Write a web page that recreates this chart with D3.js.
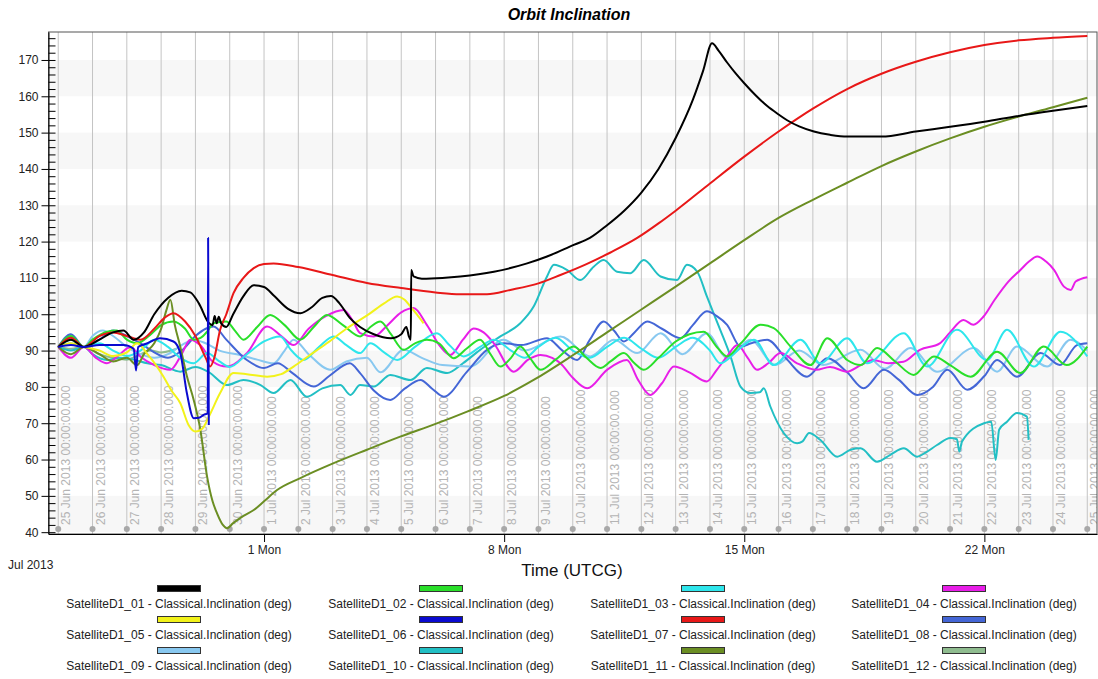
<!DOCTYPE html>
<html>
<head>
<meta charset="utf-8">
<script src="https://cdn.jsdelivr.net/npm/d3@7"></script>
<style>
  body { margin: 0; background: #fff; }
  svg { font-family: "Liberation Sans", Arial, sans-serif; }
  .tick text { font-size: 12px; fill: #222; }
</style>
</head>
<body>
<div class="chart"></div>
<script>
// Orbit Inclination - satellite inclination vs time

// time is in days after 25 Jun 2013 00:00 UTCG, value in deg
let s01 = [[0,91],[0.37,93],[0.75,91],[1.2,93],[1.6,95],[1.9,95.5],[2.2,93],[2.5,95],[2.8,100],[3.2,104.5],[3.6,106.5],[3.85,106],[4.1,103],[4.4,97.5],[4.5,97],[4.56,99.5],[4.62,97.5],[4.68,99.3],[4.75,97.5],[4.9,96.5],[5.1,100],[5.4,105],[5.7,108],[6.0,107.5],[6.3,105],[6.7,101.5],[7.06,100.3],[7.4,102],[7.7,104.5],[7.95,105],[8.2,103],[8.5,99],[8.8,96.5],[9.2,94.5],[9.7,93.4],[10.0,94.5],[10.15,96.5],[10.22,94],[10.28,93],[10.29,112.2],[10.36,110.4],[10.6,109.8],[11.2,110],[11.72,110.4],[12.7,111.7],[13.67,114],[14.25,115.9],[15.03,119.1],[15.5,121],[16.0,124.5],[16.5,128.5],[17.0,133.5],[17.5,140],[18.0,148.5],[18.5,159],[18.8,167],[19.06,174.6],[19.25,172.6],[19.5,169.3],[19.75,166.3],[20.0,163.6],[20.33,160.3],[20.67,157.3],[21.0,155],[21.25,153.4],[21.6,151.7],[22.03,150.3],[22.5,149.4],[23,148.9],[24,148.9],[25,150.3],[26,151.6],[27,153],[28,154.6],[29,156],[30,157.3]];
let s02 = [[0,91],[0.37,94],[0.75,91],[1.0,93],[1.42,95.2],[1.7,95.5],[2.0,93],[2.3,92],[2.68,94.3],[3.0,97],[3.36,98],[3.7,96],[3.95,93],[4.15,93.5],[4.34,95.2],[4.53,97.5],[4.9,98],[5.15,95.5],[5.4,93],[5.8,96.5],[6.18,99.8],[6.6,97],[7.06,93],[7.45,96.5],[7.83,99.8],[8.3,97],[8.8,93.9],[9.1,96.5],[9.39,98],[9.7,94.5],[10.07,90.2],[10.4,92],[10.75,93],[11.1,92],[11.53,87.9],[11.9,90.5],[12.3,93],[12.6,89],[12.89,85.6],[13.2,88],[13.47,91.1],[13.75,88],[14.06,84.7],[14.5,87.5],[15.03,91.1],[15.4,88],[15.81,85.2],[16.1,87],[16.49,89.3],[16.8,86.5],[17.07,84.7],[17.5,88],[18.0,92.5],[18.4,94.5],[18.82,95.2],[19.2,91],[19.5,88.4],[19.9,92],[20.47,97.1],[20.86,96.2],[21.35,91.1],[21.93,86],[22.42,93.4],[23,87.4],[23.4,86],[23.87,90.7],[24.4,87],[24.94,83.3],[25.53,88.4],[26.0,86],[26.6,82.8],[27.37,89.7],[28.05,83.8],[28.73,91.1],[29.4,86],[30,91.1]];
let s03 = [[0,91],[0.37,93],[0.75,91],[1.2,92],[1.6,90],[2.0,88.5],[2.4,90],[2.8,93],[3.2,91],[3.56,88],[3.95,86.5],[4.34,89.3],[4.7,87],[5.0,85.5],[5.5,89],[6.0,92.5],[6.47,93.9],[6.8,90],[7.15,87.4],[7.6,91],[8.03,93.9],[8.4,91.5],[8.8,89.3],[9.1,92],[9.5,89.5],[9.88,87.4],[10.4,91],[11.04,94.8],[11.4,91.5],[11.82,88.4],[12.3,91],[12.7,93],[13.2,90],[13.6,88],[14.0,91],[14.5,93.5],[15.0,90],[15.5,88],[16.0,91],[16.5,93.5],[17.0,90.5],[17.5,88],[18.0,91],[18.5,93.5],[19.0,90],[19.3,86.5],[19.8,90],[20.28,93],[20.86,86],[21.64,93],[22.22,86.5],[23,93.4],[23.58,86.5],[24.65,94.8],[25.33,85.6],[26.2,95.7],[27.08,87.4],[27.66,95.7],[28.44,85.6],[29.22,95.2],[30,88.4]];
let s04 = [[0,91],[0.37,88],[0.75,91],[1.1,88],[1.42,86.5],[1.8,89],[2.1,91],[2.4,88.3],[2.8,86],[3.27,84.7],[3.6,89],[3.85,93],[4.14,91.5],[4.5,87],[4.92,85.6],[5.5,89.3],[6.09,96.6],[6.5,94],[6.86,91.5],[7.3,96],[7.8,99.5],[8.32,101.2],[8.6,98],[8.8,94.8],[9.2,93.9],[9.6,97],[10.0,100.5],[10.36,101.7],[10.75,97],[11.14,91.1],[11.43,88.8],[11.8,93],[12.11,96.1],[12.4,95],[12.7,92],[13.28,84.2],[13.7,87.5],[14.06,88.8],[14.4,88],[14.64,86.5],[15.0,82.5],[15.42,79.6],[16.0,84.7],[16.58,87.4],[16.9,82],[17.26,77.8],[17.6,81],[17.95,85.6],[18.4,84],[18.91,81.5],[19.2,84.7],[19.5,88.4],[19.8,91.5],[20.1,88],[20.37,84.7],[20.7,86.5],[21.06,89.3],[21.54,86.5],[22.1,84.7],[22.5,85.5],[22.99,84.2],[23.4,86],[23.76,87.4],[24.2,86.5],[24.64,86.9],[25.12,90.2],[25.7,92],[26.0,95],[26.39,98.4],[26.68,97.1],[26.97,99.3],[27.3,104],[27.7,109],[28.05,112.2],[28.3,114.5],[28.54,115.9],[28.8,114.5],[29.03,112.2],[29.32,107.6],[29.52,106.7],[29.66,109],[30,110.2]];
let s05 = [[0,91],[0.37,92],[0.75,91],[1.2,90],[1.6,88.5],[2.0,89.5],[2.3,92],[2.6,89],[2.85,86],[3.07,82.8],[3.3,79],[3.56,75.5],[3.8,69.5],[4.0,67.7],[4.2,68.5],[4.4,72],[4.72,78.3],[5.11,83.8],[5.5,83.5],[6.09,82.8],[6.5,83.5],[6.86,85.6],[7.3,88.5],[7.83,92],[8.4,96],[9.1,100.3],[9.5,103],[9.88,104.9],[10.1,104],[10.27,102.1],[10.45,100],[10.65,97.5]];
let s06 = [[0,91],[0.37,91.5],[0.75,91],[1.2,91.5],[1.6,91.5],[1.9,91.5],[2.2,90.5],[2.27,84.5],[2.33,91],[2.6,92],[2.97,93.4],[3.36,92.5],[3.56,89.3],[3.75,78.3],[3.95,71.4],[4.1,71.5],[4.24,72.3],[4.36,72.7],[4.37,121],[4.39,69.5]];
let s07 = [[0,91],[0.37,93.5],[0.75,91],[1.2,94],[1.6,95],[2.0,94],[2.4,93],[2.8,96],[3.1,99],[3.36,100.3],[3.7,98],[4.0,94],[4.3,88],[4.43,85.6],[4.55,88],[4.72,95.7],[4.9,100],[5.11,105.8],[5.4,110],[5.7,112.7],[6.0,113.8],[6.28,114],[7,113],[8,110.8],[9,108.6],[10,107.2],[11,106],[11.72,105.5],[12.5,105.5],[13.18,106.7],[14,108.5],[14.64,110.8],[15.4,113.8],[16.1,117],[16.88,121],[17.5,125],[18,128.5],[19,136],[20,143.4],[21,150.3],[22,156.6],[23,162],[24,166.2],[25,169.5],[26,172.1],[27,174.1],[28,175.4],[29,176.1],[30,176.6]];
let s08 = [[0,91],[0.37,94.5],[0.75,91],[1.2,93],[1.6,95.5],[2.0,94],[2.4,92],[2.8,89.5],[3.2,88],[3.6,90],[4.0,94],[4.3,96],[4.53,96.6],[4.9,93],[5.5,87.4],[6.0,85.2],[6.4,86.5],[6.8,84],[7.45,80.1],[7.9,83],[8.5,86.5],[8.8,83.8],[9.2,79],[9.68,76.4],[10.1,79.5],[10.56,81.9],[10.9,79.5],[11.24,77.3],[11.9,84],[12.5,90.2],[13.0,92],[13.5,91.5],[14.25,93.4],[14.7,90],[15.13,87.4],[15.5,93],[15.9,98],[16.2,95.5],[16.49,92.5],[16.8,95],[17.17,98],[17.6,96],[18.14,93.4],[18.5,97],[18.91,100.8],[19.2,99.5],[19.5,97.1],[19.89,91.1],[20.2,92],[20.67,93],[21.2,88],[21.83,82.8],[22.42,87.9],[23.0,84],[23.48,79.6],[24.07,84.7],[24.5,82],[25.04,77.8],[25.5,80],[25.92,84.7],[26.5,79.2],[27.0,83],[27.37,87.4],[27.95,82.8],[28.64,89.3],[29.2,86],[29.7,91.5],[30,92]];
let s09 = [[0,91],[0.37,92],[0.75,91],[1.0,94],[1.3,95.5],[1.6,94],[2.0,91],[2.4,89],[2.8,88],[3.2,89],[3.6,91.5],[3.95,93],[4.3,92],[4.7,90],[5.3,88.8],[5.8,87.5],[6.28,86.5],[6.6,90],[6.86,93],[7.3,89],[7.93,84.7],[8.4,87],[9.0,88],[9.39,84],[10.07,90.2],[10.6,88],[11.2,86],[12.01,85.6],[12.98,93],[13.6,90],[14.64,93.9],[15.51,88.4],[16.2,93],[16.88,89.3],[17.56,94.8],[18.2,89],[18.91,94.8],[19.5,88],[20.18,93],[20.9,86],[21.6,90],[22.3,86],[23.39,90.2],[24.1,85],[24.85,90.7],[25.62,84.2],[26.69,90.7],[27.37,84.2],[27.95,91.1],[28.83,85.6],[29.51,93],[30,90]];
let s10 = [[0,91],[0.37,90],[0.75,91],[1.0,89],[1.42,87.4],[1.8,88],[2.2,87.5],[2.6,86.5],[3.0,86],[3.56,84.2],[4.0,85.5],[4.4,84],[4.92,80.5],[5.4,81.9],[5.9,80.5],[6.28,78.3],[6.77,81.9],[7.25,77.3],[7.7,79.6],[8.22,80.5],[8.52,77.8],[8.8,80.5],[9.2,80.1],[9.68,83.3],[10.27,81.9],[10.75,85.2],[11.34,83.8],[11.8,86.5],[12.3,90.2],[12.89,93.9],[13.47,97.5],[13.86,102.1],[14.25,110.4],[14.45,113.6],[14.83,112.2],[15.22,109.4],[15.61,113.1],[15.9,114.9],[16.29,111.7],[16.68,111.3],[17.07,114.9],[17.56,110.4],[18.04,109.4],[18.33,113.6],[18.63,111.7],[18.91,104.9],[19.3,95.7],[19.6,88.4],[19.89,80.1],[20.18,78.3],[20.45,78.5],[20.57,79.6],[20.76,74.6],[21.15,67.3],[21.54,64.5],[21.7,65],[21.89,67.3],[22.22,65.4],[22.71,60.8],[23.1,62.7],[23.39,63.1],[23.87,59.4],[24.26,61.3],[24.65,63.1],[25.04,60.8],[25.3,62],[25.62,64],[26.01,65.9],[26.2,65.6],[26.27,62.2],[26.35,65],[26.99,70],[27.2,70.4],[27.33,59.9],[27.43,68.2],[27.66,70.4],[27.95,72.8],[28.24,71.8],[28.29,65.4]];
let s11 = [[0,91],[0.37,89],[0.75,91],[1.2,89],[1.6,87],[2.0,88],[2.3,86],[2.5,89],[2.8,92],[3.0,96],[3.15,101],[3.27,104],[3.4,97],[3.56,91],[3.75,83],[3.95,76.4],[4.14,68.4],[4.34,55.3],[4.5,48.5],[4.63,45.2],[4.8,42],[4.92,41.1],[5.1,42.5],[5.4,44.5],[5.7,46.1],[6.0,48.5],[6.38,51.6],[7.06,54.9],[8.03,59],[9,62.7],[9.97,66.3],[11,69.8],[11.92,73.2],[13,77.5],[13.86,81.9],[15,88.7],[16,95],[17,101.3],[18,107.6],[19,114],[20,120.4],[21,126.5],[22,131.5],[23,136.2],[24,140.8],[25,144.8],[26,148.4],[27,151.6],[28,154.4],[29,157],[30,159.6]];
let s12 = [[0,91],[0.37,90.5],[0.75,91],[1.2,89],[1.6,88],[2.0,87.5],[2.3,88.5],[2.7,90],[3.0,89.5],[3.3,90],[3.45,90.5]];

let seriesNames = ["SatelliteD1_01","SatelliteD1_02","SatelliteD1_03","SatelliteD1_04","SatelliteD1_05","SatelliteD1_06",
                   "SatelliteD1_07","SatelliteD1_08","SatelliteD1_09","SatelliteD1_10","SatelliteD1_11","SatelliteD1_12"];
let seriesColors = ["#000000","#2adf2a","#2ee6ec","#e81ee8","#f2f21a","#0a0ad0",
                    "#e81818","#4466d6","#88c8f0","#22bfc4","#6b8e23","#8fbc8f"];
let seriesValues = [s01,s02,s03,s04,s05,s06,s07,s08,s09,s10,s11,s12];

let yMajorTicks = [40,50,60,70,80,90,100,110,120,130,140,150,160,170];
let yBands = [[40,50],[60,70],[80,90],[100,110],[120,130],[140,150],[160,170]];

let svgWidth = 1098;
let svgHeight = 679;
let plot = { left: 48.5, top: 32, right: 1097, bottom: 534 };

let t0 = Date.UTC(2013, 5, 25);
let toDate = d => new Date(t0 + d * 864e5);

let svg = d3.select(".chart").append("svg")
  .attr("width", svgWidth)
  .attr("height", svgHeight);

svg.append("clipPath").attr("id", "plotclip").append("rect")
  .attr("x", plot.left).attr("y", plot.top)
  .attr("width", plot.right - plot.left).attr("height", plot.bottom - plot.top);

let xScale = d3.scaleUtc()
  .domain([new Date(Date.UTC(2013, 5, 24, 17, 12)), new Date(Date.UTC(2013, 6, 25, 6, 48))])
  .range([plot.left, plot.right]);
let yScale = d3.scaleLinear().domain([39.5, 177.7]).range([plot.bottom, plot.top]);

// title
svg.append("text")
  .attr("x", 569).attr("y", 20)
  .attr("text-anchor", "middle")
  .style("font-size", "16px").style("font-weight", "bold").style("font-style", "italic")
  .text("Orbit Inclination");

// alternating bands
svg.append("g").selectAll("rect")
  .data(yBands).enter().append("rect")
  .attr("x", plot.left).attr("width", plot.right - plot.left)
  .attr("y", d => yScale(d[1])).attr("height", d => yScale(d[0]) - yScale(d[1]))
  .attr("fill", "#f7f7f7");

// day grid lines with their rotated labels (clipped to the plot like the original)
let days = d3.utcDay.range(toDate(0), toDate(30.5));
let fmtDay = d3.utcFormat("%-d %b %Y %H:%M:%S.%L");
let grid = svg.append("g").attr("clip-path", "url(#plotclip)");
grid.selectAll("line").data(days).enter().append("line")
  .attr("x1", d => xScale(d)).attr("x2", d => xScale(d))
  .attr("y1", plot.top).attr("y2", plot.bottom)
  .attr("stroke", "#c4c4c4").attr("stroke-width", 1);
grid.selectAll("text").data(days).enter().append("text")
  .attr("transform", d => `translate(${xScale(d) + 12},${plot.bottom - 9})rotate(-90)`)
  .style("font-size", "12px").attr("fill", "#b4b4b4")
  .text(d => fmtDay(d));
grid.selectAll("circle").data(days).enter().append("circle")
  .attr("cx", d => xScale(d)).attr("cy", plot.bottom - 5).attr("r", 3)
  .attr("fill", "#a8a8a8");

// series lines
let line = d3.line()
  .x(d => xScale(toDate(d[0])))
  .y(d => yScale(d[1]))
  .curve(d3.curveMonotoneX);

let lineGroup = svg.append("g")
  .attr("clip-path", "url(#plotclip)");
[11,9,8,7,3,2,1,10,6,4,0,5].forEach(i => {
  lineGroup.append("path")
    .datum(seriesValues[i])
    .attr("d", line)
    .attr("fill", "none")
    .attr("stroke", seriesColors[i])
    .attr("stroke-width", 2)
    .attr("stroke-linejoin", "round");
});

// frame
svg.append("rect")
  .attr("x", plot.left).attr("y", plot.top)
  .attr("width", plot.right - plot.left).attr("height", plot.bottom - plot.top)
  .attr("fill", "none").attr("stroke", "#555");

// y axis: major ticks to the left with labels, minor ticks every 2 inside
svg.append("g")
  .attr("transform", `translate(${plot.left},0)`)
  .call(d3.axisLeft(yScale).tickValues(yMajorTicks).tickSize(7).tickSizeOuter(0).tickPadding(3))
  .call(g => g.select(".domain").attr("stroke", "#000"));
svg.append("g")
  .attr("transform", `translate(${plot.left},0)`)
  .call(d3.axisRight(yScale).tickValues(d3.range(40, 178, 2)).tickSize(7).tickSizeOuter(0).tickFormat(""))
  .call(g => g.select(".domain").remove());

// x axis: weekly Monday ticks
let mondays = [toDate(6), toDate(13), toDate(20), toDate(27)];
svg.append("g")
  .attr("transform", `translate(0,${plot.bottom})`)
  .call(d3.axisBottom(xScale).tickValues(mondays).tickFormat(d3.utcFormat("%-d %a")).tickSize(8).tickSizeOuter(0).tickPadding(3))
  .call(g => g.select(".domain").attr("stroke", "#000"));

svg.append("text")
  .attr("x", 8).attr("y", 569)
  .style("font-size", "12px").attr("fill", "#222")
  .text("Jul 2013");

svg.append("text")
  .attr("x", 572).attr("y", 576)
  .attr("text-anchor", "middle")
  .style("font-size", "17px").attr("fill", "#111")
  .text("Time (UTCG)");

// legend, 4 columns x 3 rows
let legendCols = [179, 441, 703, 964];
let legendRows = [585.5, 616.5, 647.5];
let legend = svg.append("g");
seriesNames.forEach((name, i) => {
  let cx = legendCols[i % 4];
  let ty = legendRows[Math.floor(i / 4)];
  legend.append("rect")
    .attr("x", cx - 21.5).attr("y", ty)
    .attr("width", 43).attr("height", 6)
    .attr("fill", seriesColors[i]).attr("stroke", "#333").attr("stroke-width", 1);
  legend.append("text")
    .attr("x", cx).attr("y", ty + 22.5)
    .attr("text-anchor", "middle")
    .style("font-size", "12px").attr("fill", "#222")
    .text(name + " - Classical.Inclination (deg)");
});
</script>
</body>
</html>
